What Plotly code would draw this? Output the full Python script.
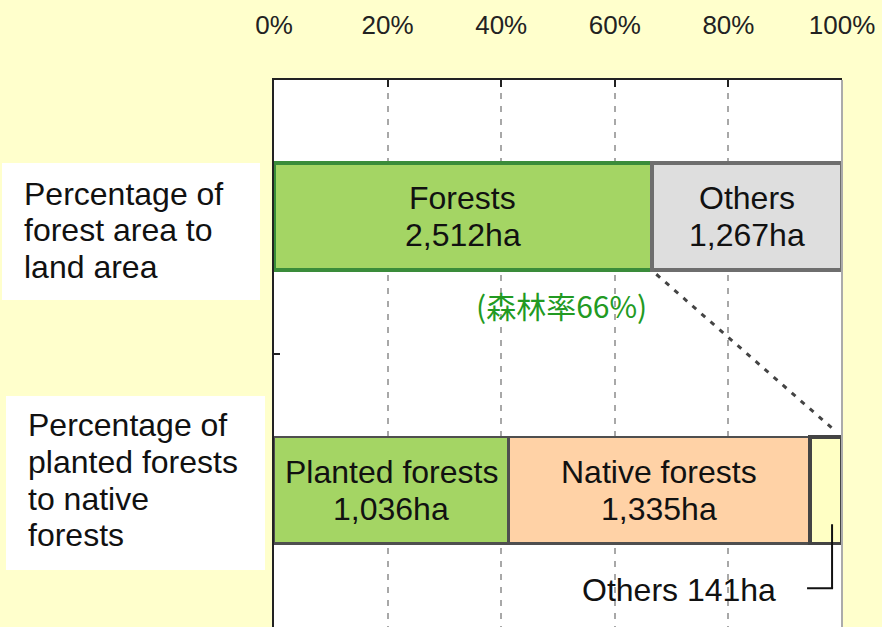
import plotly.graph_objects as go

# ---------------- data ----------------
rows = ["land", "forest"]
row_titles = [
    ["Percentage of", "forest area to", "land area"],
    ["Percentage of", "planted forests", "to native", "forests"],
]
land_labels = ["Forests", "Others"]
land_values = [2512, 1267]
forest_labels = ["Planted forests", "Native forests", "Others"]
forest_values = [1036, 1335, 141]
tick_vals = [0, 20, 40, 60, 80, 100]
tick_text = ["0%", "20%", "40%", "60%", "80%", "100%"]
rate_word = "森林率"

# ---------------- style ----------------
W, H = 882, 627
ML, MR, MT, MB = 274, 40, 80, 0
BAR_W = 0.39
land_fill = ["#A4D564", "#DEDEDE"]
land_line = [("#3A8C3A", 4), ("#6E6E6E", 4)]
forest_fill = ["#A4D564", "#FFD2A6", "#FFFFC4"]
forest_line = [("#4F4F4F", 2.5), ("#4F4F4F", 2.5), ("#444444", 3.5)]
TXT = "Liberation Sans, Arial, sans-serif"
FS = 32
LINE = 36.7


def px_to_paper_x(px):
    return (px - ML) / (W - ML - MR)


def py_to_paper_y(py):
    return 1 - (py - MT) / (H - MT - MB)


def pct(vals):
    s = sum(vals)
    return [v / s * 100 for v in vals]


land_pct = pct(land_values)
forest_pct = pct(forest_values)

fig = go.Figure()
annotations = []
shapes = []

for row, labels, vals, pcts, fills, lines in [
    (rows[0], land_labels, land_values, land_pct, land_fill, land_line),
    (rows[1], forest_labels, forest_values, forest_pct, forest_fill, forest_line),
]:
    start = 0
    for i, (lab, v, p) in enumerate(zip(labels, vals, pcts)):
        fig.add_trace(go.Bar(
            x=[p], y=[row], orientation="h", width=BAR_W, name=lab,
            marker=dict(color=fills[i], line=dict(color=lines[i][0], width=lines[i][1])),
            hovertemplate=f"{lab}: {v:,}ha<extra></extra>",
        ))
        center = start + p / 2
        start += p
        # inside labels (the small last segment of the forest row is labelled outside)
        if not (row == rows[1] and i == len(labels) - 1):
            for text, shift in [(lab, LINE / 2), (f"{v:,}ha", -LINE / 2)]:
                annotations.append(dict(
                    x=center, y=row, xref="x", yref="y", text=text, showarrow=False,
                    yshift=shift, font=dict(family=TXT, size=FS, color="#111111"),
                    xanchor="center", yanchor="middle",
                ))

# outside label for small "Others" segment
others_center = 100 - forest_pct[-1] / 2
annotations.append(dict(
    x=others_center, y=rows[1], xref="x", yref="y",
    text=f"{forest_labels[-1]} {forest_values[-1]}ha", showarrow=False,
    xshift=-48, yshift=-100, xanchor="right", yanchor="middle",
    font=dict(family=TXT, size=FS, color="#111111"),
))
# leader line (elbow)
shapes.append(dict(type="line", xref="x", yref="y", xsizemode="pixel", ysizemode="pixel",
                   xanchor=others_center, yanchor=rows[1],
                   x0=6, x1=6, y0=-34, y1=-98, line=dict(color="#111111", width=2)))
shapes.append(dict(type="line", xref="x", yref="y", xsizemode="pixel", ysizemode="pixel",
                   xanchor=others_center, yanchor=rows[1],
                   x0=-19, x1=7, y0=-98, y1=-98, line=dict(color="#111111", width=2)))

# forest-rate note
annotations.append(dict(
    x=land_pct[0], y=rows[0], xref="x", yref="y",
    text=f"({rate_word}{round(land_pct[0])}%)", showarrow=False,
    xshift=-3, yshift=-88, xanchor="right", yanchor="middle",
    font=dict(family="Noto Sans CJK JP, sans-serif", size=30, color="#229A22"),
))

# dashed connector from end of forests to the right end of the lower bar
xa, ya = land_pct[0], 0 + BAR_W / 2
xb, yb = 100, 1 - BAR_W / 2
t0, t1 = 0.025, 0.945
shapes.append(dict(type="line", xref="x", yref="y",
                   x0=xa + (xb - xa) * t0, y0=ya + (yb - ya) * t0,
                   x1=xa + (xb - xa) * t1, y1=ya + (yb - ya) * t1,
                   line=dict(color="#444444", width=3, dash="5px,7px")))

# left title boxes
boxes = [(2, 260, 163, 300, 22, 193.5), (6, 265, 396, 570, 26, 425.2)]
for (bx0, bx1, by0, by1, tx, ty0), title_lines in zip(boxes, row_titles):
    shapes.append(dict(type="rect", xref="paper", yref="paper",
                       x0=px_to_paper_x(bx0), x1=px_to_paper_x(bx1),
                       y0=py_to_paper_y(by1), y1=py_to_paper_y(by0),
                       fillcolor="white", line=dict(width=0), layer="below"))
    for k, line_text in enumerate(title_lines):
        annotations.append(dict(
            x=px_to_paper_x(tx), y=py_to_paper_y(ty0 + k * LINE), xref="paper", yref="paper",
            text=line_text, showarrow=False, xanchor="left", yanchor="middle",
            font=dict(family=TXT, size=FS, color="#111111"),
        ))

# light right border of plot area
shapes.append(dict(type="line", xref="paper", yref="paper", x0=1, x1=1, y0=0, y1=1,
                   line=dict(color="#ABABAB", width=2)))

fig.update_layout(
    width=W, height=H, autosize=False,
    margin=dict(l=ML, r=MR, t=MT, b=MB, pad=0),
    barmode="stack", showlegend=False,
    paper_bgcolor="#FFFFCC", plot_bgcolor="white",
    annotations=annotations, shapes=shapes,
    xaxis=dict(
        range=[0, 100], side="top", tickvals=tick_vals, ticktext=tick_text,
        tickfont=dict(family="Liberation Sans, Arial, sans-serif", size=26, color="#222222"),
        ticks="inside", ticklen=7, tickwidth=2, tickcolor="#222222",
        showline=True, linecolor="#222222", linewidth=2,
        showgrid=True, gridcolor="#A8A8A8", gridwidth=1.5, griddash="6px,7px",
        zeroline=False, ticklabelstandoff=34,
    ),
    yaxis=dict(
        type="category", categoryorder="array", categoryarray=rows,
        range=[1.5, -0.5], showticklabels=False,
        ticks="inside", tickson="boundaries", ticklen=6, tickwidth=2, tickcolor="#222222",
        showline=True, linecolor="#222222", linewidth=2, showgrid=False, zeroline=False,
    ),
)

fig.write_html(
    "out.html",
    config={"displayModeBar": False},
    post_script="document.body.style.margin='0';document.body.style.background='#FFFFCC';",
)
